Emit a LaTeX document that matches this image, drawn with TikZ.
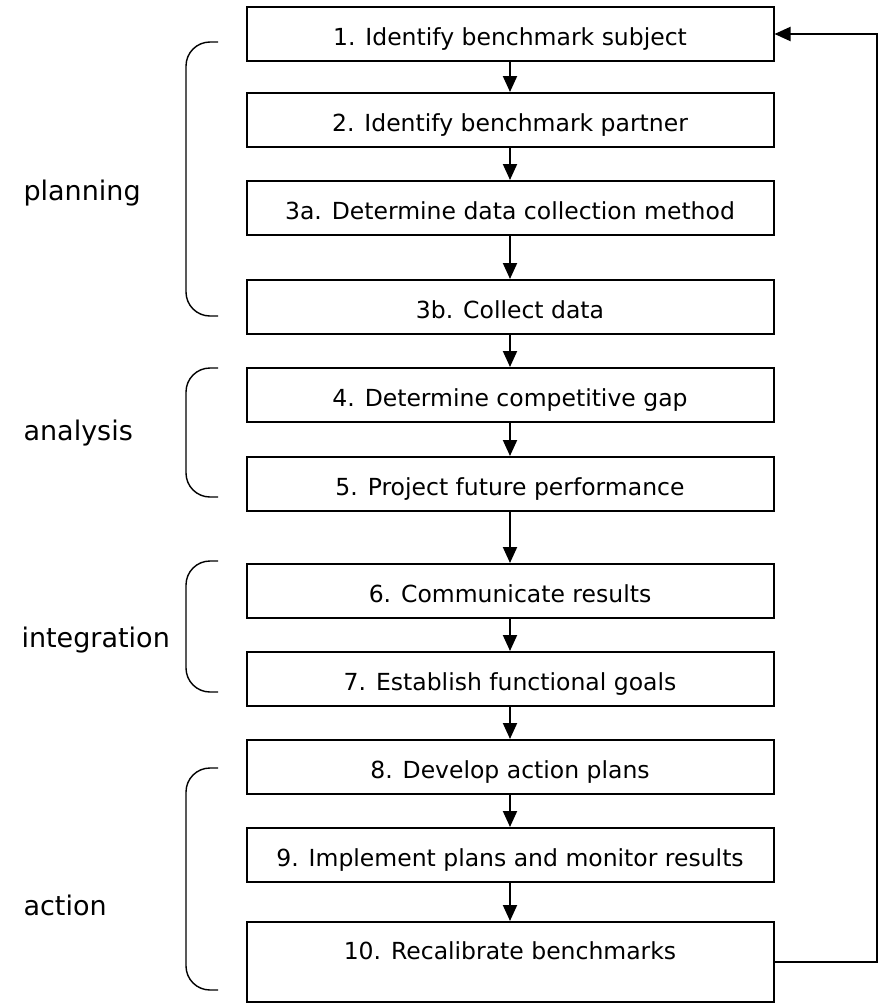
\documentclass[tikz,border=0pt]{standalone}
\usepackage{fontspec}
\setmainfont{DejaVu Sans}
\usetikzlibrary{arrows.meta}

\begin{document}
\begin{tikzpicture}[x=1pt, y=-1pt,
  steptext/.style={inner sep=0pt, text height=22pt, text depth=0pt, font=\fontsize{23.5}{28}\selectfont},
  stepbox/.style={steptext, draw, line width=2pt, minimum width=527pt, minimum height=54pt},
  flow/.style={line width=2pt, -{Triangle[length=16pt, width=14pt]}},
  phase/.style={anchor=west, font=\fontsize{27}{32}\selectfont},
  brace/.style={line width=1.4pt, rounded corners=24pt}]
\useasboundingbox (0,0) rectangle (878,1004);
% the steps
\node[stepbox] (s1)  at (510,34)  {1. Identify benchmark subject};
\node[stepbox] (s2)  at (510,120) {2. Identify benchmark partner};
\node[stepbox] (s3a) at (510,208) {3a. Determine data collection method};
\node[stepbox] (s3b) at (510,307) {3b. Collect data};
\node[stepbox] (s4)  at (510,395) {4. Determine competitive gap};
\node[stepbox] (s5)  at (510,484) {5. Project future performance};
\node[stepbox] (s6)  at (510,591) {6. Communicate results};
\node[stepbox] (s7)  at (510,679) {7. Establish functional goals};
\node[stepbox] (s8)  at (510,767) {8. Develop action plans};
\node[stepbox] (s9)  at (510,855) {9. Implement plans and monitor results};
% last box is taller, its text sits near the top
\node[stepbox, minimum height=80pt] (s10) at (510,962) {};
\node[steptext] (t10) at ([yshift=-27pt]s10.north) {10. Recalibrate benchmarks};
\foreach \a/\b in {s1/s2, s2/s3a, s3a/s3b, s3b/s4, s4/s5, s5/s6, s6/s7, s7/s8, s8/s9, s9/s10}
  \draw[flow] (\a) -- (\b);
% loop back to the start
\coordinate (fb) at (877,0);
\draw[flow] (s10.east) -- (s10.east -| fb) |- (s1.east);
% phases
\draw[brace] (218,42) -- (186,42) -- (186,316) -- (218,316);
\draw[brace] (218,368) -- (186,368) -- (186,497) -- (218,497);
\draw[brace] (218,561) -- (186,561) -- (186,692) -- (218,692);
\draw[brace] (218,768) -- (186,768) -- (186,990) -- (218,990);
\node[phase] (plan) at (20,193) {planning};
\node[phase] (anal) at (20,433) {analysis};
\node[phase] (integ) at (18,640) {integration};
\node[phase] (act) at (20,905) {action};
\end{tikzpicture}
\end{document}
